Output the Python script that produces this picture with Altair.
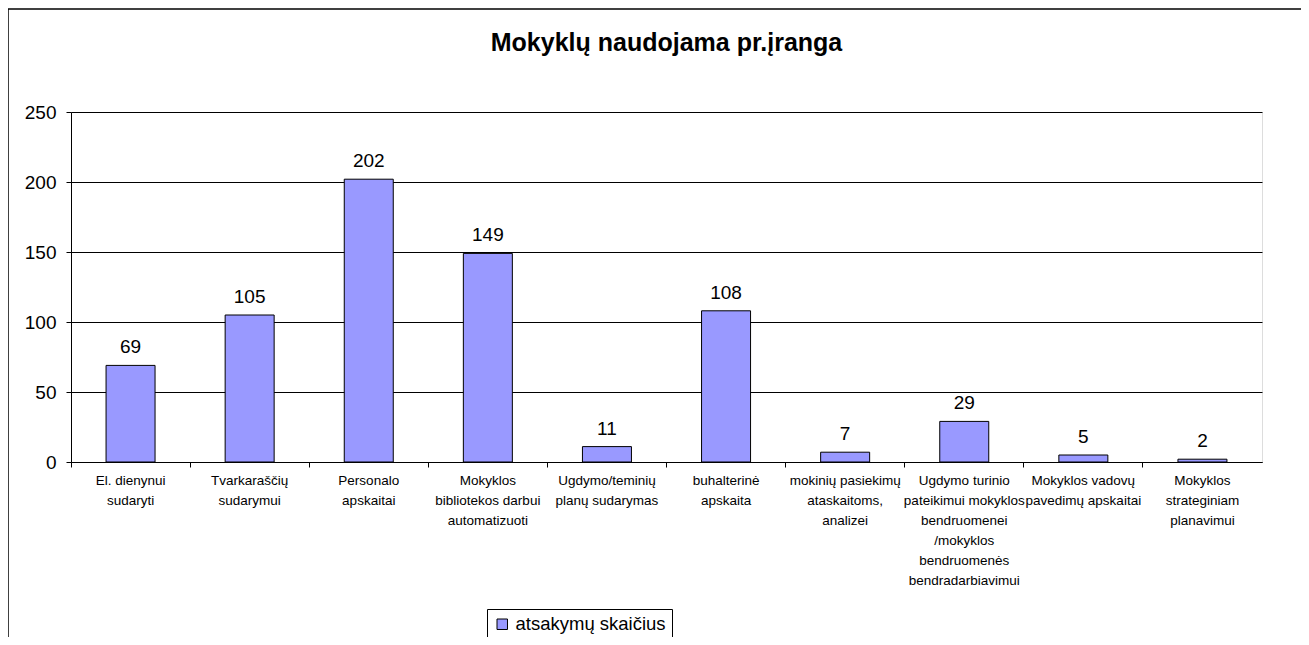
import altair as alt
import pandas as pd

categories = [
    "El. dienynui|sudaryti",
    "Tvarkaraščių|sudarymui",
    "Personalo|apskaitai",
    "Mokyklos|bibliotekos darbui|automatizuoti",
    "Ugdymo/teminių|planų sudarymas",
    "buhalterinė|apskaita",
    "mokinių pasiekimų|ataskaitoms,|analizei",
    "Ugdymo turinio|pateikimui mokyklos|bendruomenei|/mokyklos|bendruomenės|bendradarbiavimui",
    "Mokyklos vadovų|pavedimų apskaitai",
    "Mokyklos|strateginiam|planavimui",
]
values = [69, 105, 202, 149, 11, 108, 7, 29, 5, 2]
series_name = "atsakymų skaičius"
title_text = "Mokyklų naudojama pr.įranga"
y_ticks = [0, 50, 100, 150, 200, 250]

df = pd.DataFrame({"cat": categories, "val": values, "series": [series_name] * len(values)})

FONT = "Liberation Sans"

x_enc = alt.X(
    "cat:N",
    sort=categories,
    scale=alt.Scale(paddingInner=0, paddingOuter=0),
    axis=alt.Axis(
        title=None,
        labelAngle=0,
        labelExpr="split(datum.label, '|')",
        labelFontSize=13.5,
        labelFont=FONT,
        labelColor="#000000",
        labelLineHeight=20,
        labelPadding=6,
        labelBaseline="top",
        bandPosition=0,
        ticks=True,
        tickSize=5,
        tickColor="#000000",
        domainColor="#000000",
        grid=False,
        labelLimit=200,
    ),
)
y_enc = alt.Y(
    "val:Q",
    scale=alt.Scale(domain=[0, 250], nice=False),
    axis=alt.Axis(
        title=None,
        values=y_ticks,
        labelFontSize=19,
        labelFont=FONT,
        labelColor="#000000",
        labelPadding=10,
        tickSize=5,
        tickColor="#000000",
        domainColor="#000000",
        grid=True,
        gridColor="#000000",
        gridWidth=1,
    ),
)

bars = alt.Chart(df).mark_bar(size=49, stroke="#000000", strokeWidth=1).encode(
    x=x_enc,
    y=y_enc,
    color=alt.Color(
        "series:N",
        scale=alt.Scale(range=["#9999FF"]),
        legend=alt.Legend(
            title=None,
            orient="none",
            legendX=416,
            legendY=497,
            symbolType="square",
            symbolSize=110,
            symbolStrokeColor="#000000",
            symbolStrokeWidth=1,
            labelFontSize=18.5,
            labelFont=FONT,
            labelColor="#000000",
            strokeColor="#000000",
            fillColor="#ffffff",
            padding=6,
        ),
    ),
)

labels = alt.Chart(df).mark_text(
    fontSize=19, font=FONT, color="#000000", baseline="alphabetic", dy=-12
).encode(
    x=alt.X("cat:N", sort=categories),
    y=alt.Y("val:Q"),
    text=alt.Text("val:Q"),
)

one = pd.DataFrame({"a": [0]})
border_top = alt.Chart(one).mark_rule(color="#000000", strokeWidth=1.5).encode(
    x=alt.value(-63), x2=alt.value(1237), y=alt.value(-103)
)
border_left = alt.Chart(one).mark_rule(color="#000000", strokeWidth=1.5).encode(
    x=alt.value(-63), y=alt.value(-103), y2=alt.value(540)
)

chart = (
    alt.layer(bars, labels, border_top, border_left)
    .properties(
        width=1191,
        height=350,
        autosize="none",
        padding={"left": 63, "top": 104, "right": 39, "bottom": 175},
        title=alt.TitleParams(
            title_text,
            fontSize=25,
            fontWeight="bold",
            font=FONT,
            color="#000000",
            anchor="middle",
            offset=-48,
        ),
    )
    .configure_view(fill="#C0C0C0", stroke="#808080", strokeWidth=1)
    .configure(background="#ffffff")
)

chart.save("out.html", embed_options={"renderer": "svg", "actions": False})
